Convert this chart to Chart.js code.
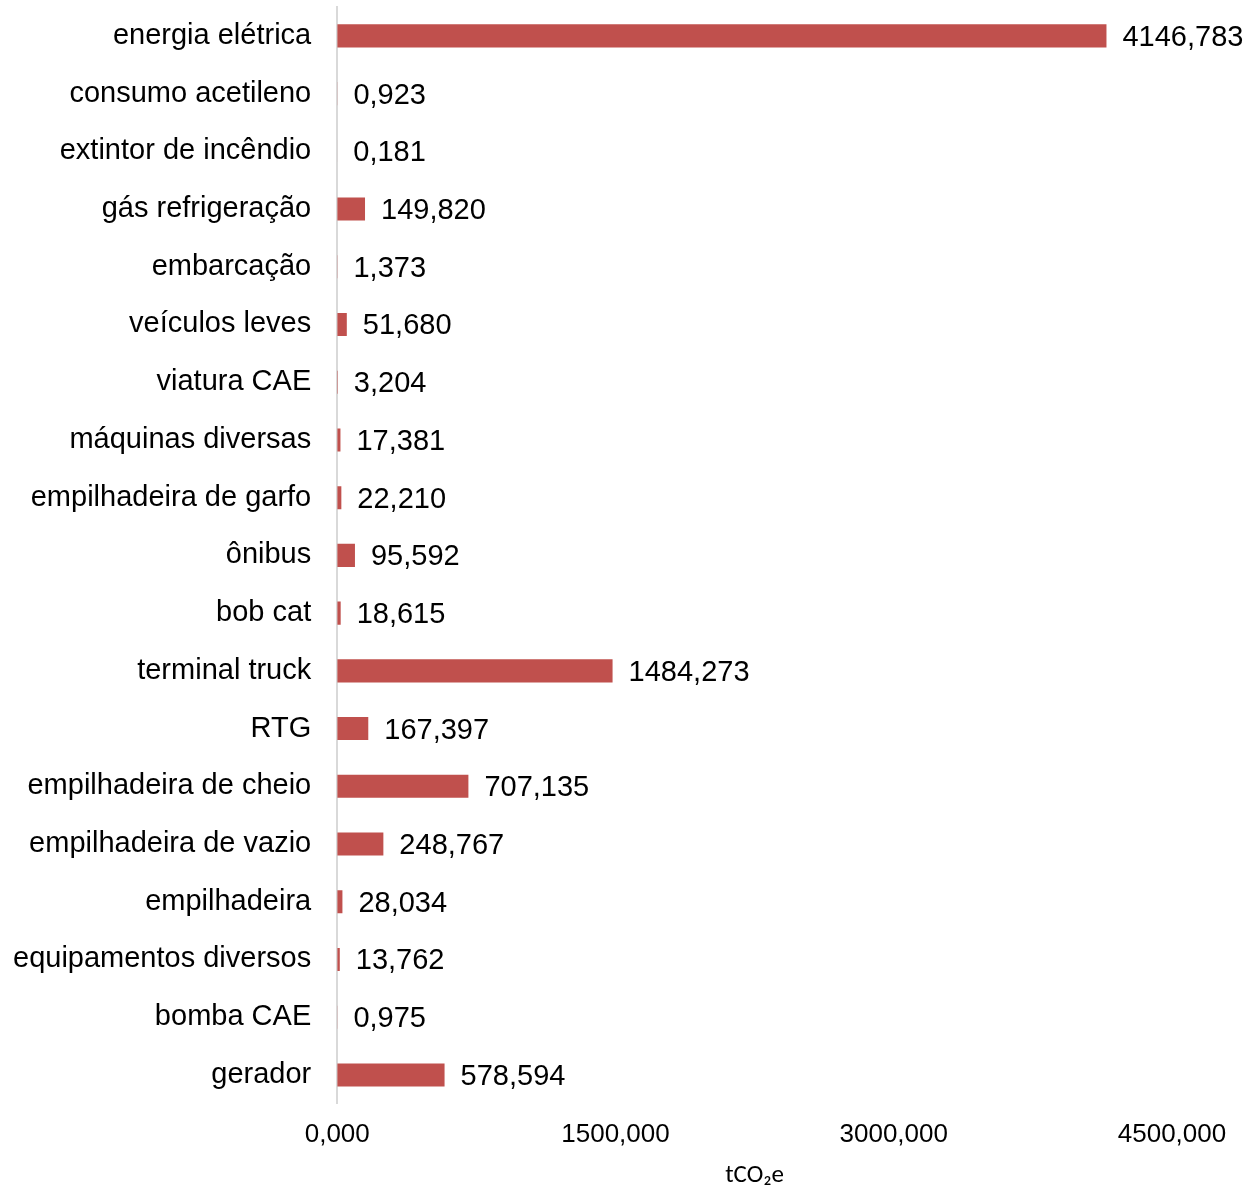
<!DOCTYPE html>
<html>
<head>
<meta charset="utf-8">
<script src="https://cdn.jsdelivr.net/npm/chart.js@4"></script>
<style>
  body { margin: 0; background: #fff; }
  #wrap { width: 1257px; height: 1187px; position: relative; }
</style>
</head>
<body>
<div id="wrap"><canvas id="emissoes"></canvas></div>
<script>
// categories (top to bottom) and emissions in tCO2e
const categories = [
  'energia elétrica', 'consumo acetileno', 'extintor de incêndio', 'gás refrigeração',
  'embarcação', 'veículos leves', 'viatura CAE', 'máquinas diversas',
  'empilhadeira de garfo', 'ônibus', 'bob cat', 'terminal truck', 'RTG',
  'empilhadeira de cheio', 'empilhadeira de vazio', 'empilhadeira',
  'equipamentos diversos', 'bomba CAE', 'gerador'
];
const emissions = [
  4146.783, 0.923, 0.181, 149.820, 1.373, 51.680, 3.204, 17.381,
  22.210, 95.592, 18.615, 1484.273, 167.397, 707.135, 248.767, 28.034,
  13.762, 0.975, 578.594
];
const xTicks = [0, 1500, 3000, 4500];

const fmt = v => v.toFixed(3).replace('.', ',');

// value labels at the end of each bar
const valueLabels = {
  id: 'valueLabels',
  afterDatasetsDraw(chart) {
    const { ctx } = chart;
    const meta = chart.getDatasetMeta(0);
    const xs = chart.scales.x;
    ctx.save();
    ctx.font = '29px "Liberation Sans", Arial, sans-serif';
    ctx.fillStyle = '#000';
    ctx.textAlign = 'left';
    ctx.textBaseline = 'middle';
    meta.data.forEach((bar, i) => {
      const x = xs.getPixelForValue(emissions[i]) + 16;
      ctx.fillText(fmt(emissions[i]), x, bar.y + 2);
    });
    ctx.restore();
  }
};

new Chart(document.getElementById('emissoes'), {
  type: 'bar',
  data: {
    labels: categories,
    datasets: [{
      data: emissions,
      backgroundColor: '#C0504D',
      categoryPercentage: 0.8,
      barPercentage: 0.5
    }]
  },
  options: {
    indexAxis: 'y',
    responsive: true,
    maintainAspectRatio: false,
    animation: false,
    layout: { padding: { left: -13, right: 85, top: 7, bottom: -4 } },
    plugins: { legend: { display: false }, tooltip: { enabled: false } },
    scales: {
      x: {
        min: 0, max: 4500,
        afterBuildTicks: s => { s.ticks = xTicks.map(v => ({ value: v })); },
        afterFit: s => { s.paddingLeft = 0; s.paddingRight = 0; },
        grid: { display: false, drawTicks: false },
        border: { display: false },
        ticks: {
          padding: 15,
          color: '#000',
          font: { family: '"Liberation Sans", Arial, sans-serif', size: 26 },
          callback: v => fmt(v)
        },
        title: {
          display: true,
          text: 'tCO₂e',
          color: '#000',
          font: { family: 'Carlito, "Open Sans", sans-serif', size: 25 },
          padding: { top: -4, bottom: 0 }
        }
      },
      y: {
        afterFit: s => { s.paddingTop = 0; s.paddingBottom = 0; },
        grid: { display: false, drawTicks: false },
        border: { display: true, color: '#d9d9d9', width: 2 },
        ticks: {
          padding: 26,
          color: '#000',
          font: { family: '"Liberation Sans", Arial, sans-serif', size: 29 }
        }
      }
    }
  },
  plugins: [valueLabels]
});
</script>
</body>
</html>
